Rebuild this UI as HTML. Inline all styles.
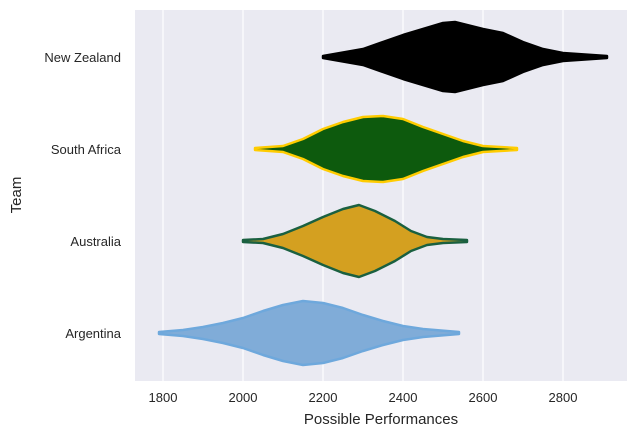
<!DOCTYPE html>
<html><head><meta charset="utf-8"><style>
body{margin:0;background:#fff;font-family:"Liberation Sans",sans-serif;}
text{font-family:"Liberation Sans",sans-serif;fill:#262626;}
</style></head><body>
<svg id="chart" width="639" height="437" xmlns="http://www.w3.org/2000/svg">
<rect x="135" y="10" width="492" height="371" fill="#eaeaf2"/>
<g id="grid"></g><g id="violins"></g><g id="xticks"></g><g id="yticks"></g>
<text x="381" y="424" font-size="15" text-anchor="middle">Possible Performances</text>
<text x="21" y="195" font-size="15" text-anchor="middle" transform="rotate(-90 21 195)">Team</text>
</svg>
<script>
const teams=["New Zealand","South Africa","Australia","Argentina"];
const fills=["#000000","#0d5a0d","#d4a020","#80acd8"];
const strokes=["#000000","#ffcc00","#1a6040","#6ea8dc"];
const xTicks=[1800,2000,2200,2400,2600,2800];
const nzVals=[2200,2300,2400,2450,2500,2530,2600,2650,2700,2750,2800,2910];
const nzDens=[1,8,22,28,34,35,28,24,15,8,4,1];
const saVals=[2030,2100,2150,2200,2250,2300,2350,2400,2450,2500,2550,2600,2685];
const saDens=[1,3,10,20,27,32,33,30,22,15,8,3,1];
const auVals=[2000,2050,2100,2150,2200,2250,2290,2330,2380,2420,2460,2500,2560];
const auDens=[1,2,7,15,24,32,36,30,20,10,4,2,1];
const arVals=[1790,1850,1900,1950,2000,2050,2100,2150,2200,2250,2300,2350,2400,2450,2540];
const arDens=[1,3,6,10,15,22,28,32,30,25,18,12,7,4,1];
const vals=[nzVals,saVals,auVals,arVals], dens=[nzDens,saDens,auDens,arDens];
const NS="http://www.w3.org/2000/svg";
const xs=v=>163+(v-1800)*0.4;
const ys=i=>57+i*92;
const mk=(t,p,a)=>{const e=document.createElementNS(NS,t);for(const k in a)e.setAttribute(k,a[k]);p.appendChild(e);return e;};
const grid=document.getElementById('grid'),xt=document.getElementById('xticks'),yt=document.getElementById('yticks'),vg=document.getElementById('violins');
xTicks.forEach(t=>{
 const l=mk('line',grid,{x1:xs(t),x2:xs(t),y1:10,y2:381,stroke:'#fff','stroke-width':1.2});
 
 
 const tx=mk('text',xt,{x:xs(t),y:402,'font-size':13,'text-anchor':'middle'});
 tx.textContent=t;
 
 
});
teams.forEach((n,i)=>{
 const tx=mk('text',yt,{x:121,y:ys(i)+5,'font-size':13,'text-anchor':'end'});
 tx.textContent=n;
 
 
 const v=vals[i],d=dens[i],c=ys(i);
 let top=v.map((x,k)=>xs(x)+','+(c-d[k]));
 let bot=v.map((x,k)=>xs(x)+','+(c+d[k])).reverse();
 const p=mk('polygon',vg,{points:top.concat(bot).join(' '),fill:fills[i],stroke:strokes[i],'stroke-width':2.5,'stroke-linejoin':'round'});
 
 
});
</script>
</body></html>
